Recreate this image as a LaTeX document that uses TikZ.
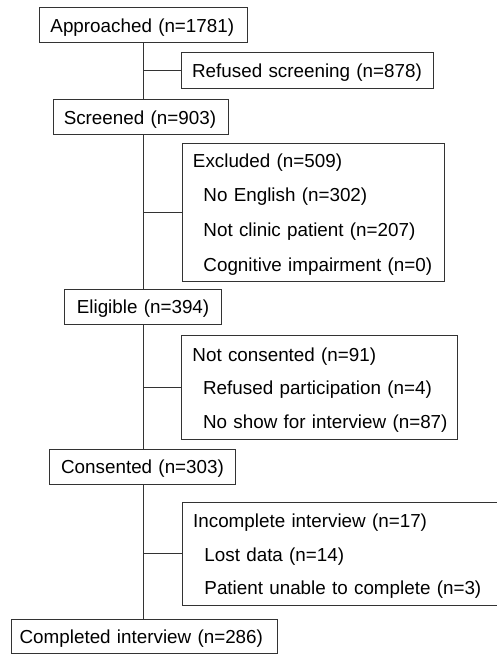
\documentclass[tikz,border=0pt]{standalone}
\usepackage{fontspec}
\setmainfont{Liberation Sans}
\begin{document}
\begin{tikzpicture}[x=1bp,y=-1bp,
  box/.style={draw=black!80, fill=white, line width=0.9bp, anchor=north west,
    inner xsep=0pt, inner ysep=0pt, align=left},
  link/.style={draw=black!80, line width=0.9bp}]
\useasboundingbox (0,0) rectangle (497,654);
\newcommand\ind[1]{\hspace*{#1bp}}
% main trunk boxes
\node[box, font=\fontsize{18.9}{22}\selectfont, text width=208bp, text height=25.3bp, text depth=9.7bp] (appr) at (39,7) {\ind{11}Approached (n=1781)};
\node[box, font=\fontsize{18.9}{22}\selectfont, text width=175bp, text height=25.3bp, text depth=9.7bp] (scr) at (53,99) {\ind{10.3}Screened (n=903)};
\node[box, font=\fontsize{18.9}{22}\selectfont, text width=157bp, text height=24.3bp, text depth=11bp] (elig) at (64,289) {\ind{12.4}Eligible (n=394)};
\node[box, font=\fontsize{18.9}{22}\selectfont, text width=186bp, text height=24.3bp, text depth=11bp] (cons) at (49,449) {\ind{11.7}Consented (n=303)};
\node[box, font=\fontsize{18.9}{22}\selectfont, text width=266bp, text height=24.3bp, text depth=10bp] (comp) at (10.7,619) {\ind{8.5}Completed interview (n=286)};
% side boxes
\node[box, font=\fontsize{18.9}{22}\selectfont, text width=252bp, text height=25bp, text depth=11bp] (refs) at (181,52) {\ind{10.7}Refused screening (n=878)};
\node[box, font=\fontsize{18.9}{34.65}\selectfont, text width=262.5bp, text height=24bp, text depth=114bp] (excl) at (181.5,143) {\ind{11}Excluded (n=509)\\\ind{21.5}No English (n=302)\\\ind{21.5}Not clinic patient (n=207)\\\ind{21.5}Cognitive impairment (n=0)};
\node[box, font=\fontsize{18.9}{33.8}\selectfont, text width=276bp, text height=25.7bp, text depth=78.3bp] (ncons) at (181,335) {\ind{11}Not consented (n=91)\\\ind{21.7}Refused participation (n=4)\\\ind{21.7}No show for interview (n=87)};
\node[box, font=\fontsize{18.9}{33.4}\selectfont, text width=318bp, text height=25.6bp, text depth=77.7bp] (inc) at (182,501.7) {\ind{10.7}Incomplete interview (n=17)\\\ind{22}Lost data (n=14)\\\ind{22}Patient unable to complete (n=3)};
% trunk
\path[link] (appr.south) -- (appr.south |- scr.north);
\path[link] (appr.south |- scr.south) -- (appr.south |- elig.north);
\path[link] (appr.south |- elig.south) -- (appr.south |- cons.north);
\path[link] (appr.south |- cons.south) -- (appr.south |- comp.north);
% branches
\path[link] (refs.west -| appr.south) -- (refs.west);
\path[link] (excl.west -| appr.south) -- (excl.west);
\path[link] (ncons.west -| appr.south) -- (ncons.west);
\path[link] (inc.west -| appr.south) -- (inc.west);
\end{tikzpicture}
\end{document}
